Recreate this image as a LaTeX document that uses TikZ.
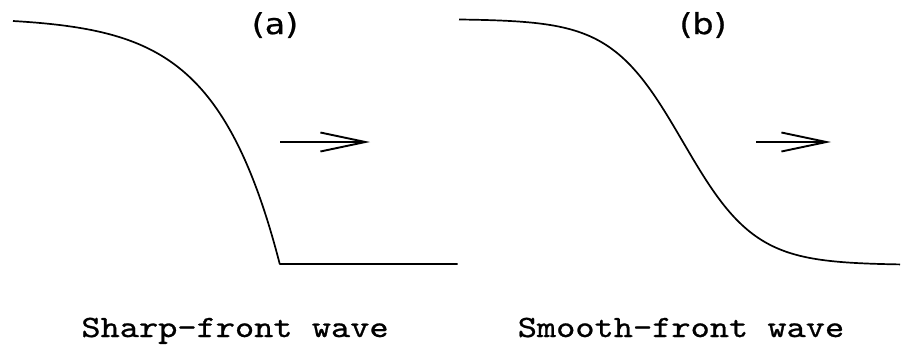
\documentclass[tikz,border=0pt]{standalone}
\usepackage{fontspec}
\newfontfamily\labfont[FakeStretch=1.15,FakeBold=0.6]{DejaVu Sans}
\newfontfamily\capfont{lmmono10-regular.otf}[FakeStretch=1.18,FakeBold=0.8]
\usetikzlibrary{arrows.meta}
\tikzset{
  curve/.style={line width=1.7pt, line join=round},
  motion/.style={line width=1.7pt, -{Straight Barb[length=45pt,width=19pt,line width=1.9pt]}},
  panellabel/.style={inner sep=0pt, font=\labfont\fontsize{29}{30}\selectfont},
  caption/.style={inner sep=0pt, anchor=base, font=\capfont\fontsize{31}{33}\selectfont}
}
\begin{document}
\begin{tikzpicture}[x=1pt,y=-1pt]
\useasboundingbox (0,0) rectangle (901,349);
% (a) sharp-front wave
\draw[curve] plot[domain=0:1,samples=140,variable=\t]
  ({13+267*\t},{21+244*(exp(4.2*\t)-1)/65.686}) -- ++(178,0);
% (b) smooth-front wave
\draw[curve] plot[domain=459:900,samples=160,variable=\x]
  (\x,{142+123*tanh((\x-683)/72)});
% arrows
\coordinate (a0) at (280,142);
\coordinate (a1) at (370,142);
\coordinate (b0) at (756,142);
\coordinate (b1) at (831,142);
\draw[motion] (a0) -- (a1);
\draw[motion] (b0) -- (b1);
% labels
\node[panellabel] (la) at (275,25) {(a)};
\node[panellabel] (lb) at (703,25) {(b)};
\node[caption] (ca) at (235,337) {Sharp-front wave};
\node[caption] (cb) at (681,337) {Smooth-front wave};
\end{tikzpicture}
\end{document}
